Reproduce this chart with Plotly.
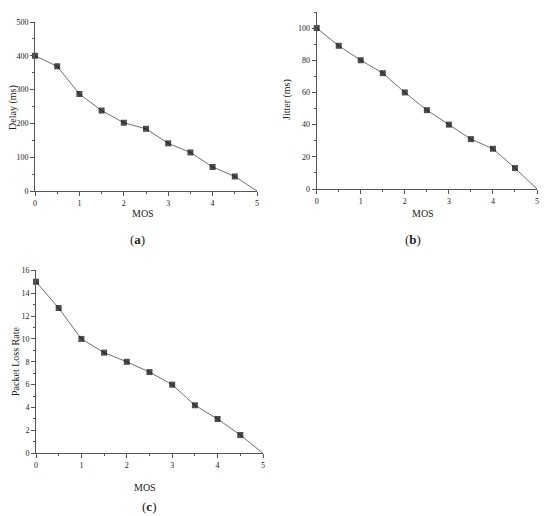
import plotly.graph_objects as go

mos = [0, 0.5, 1, 1.5, 2, 2.5, 3, 3.5, 4, 4.5, 5]
delay = [400, 369, 287, 238, 202, 184, 141, 114, 71, 43, 0]
jitter = [100, 89, 80, 72, 60, 49, 40, 31, 25, 13, 0]
loss = [15, 12.7, 10, 8.8, 8, 7.1, 6, 4.2, 3, 1.6, 0]

W, H = 550, 516
FONT = "Liberation Serif, Times New Roman, serif"
AX = "#555555"


def px(x):
    return x / W


def py(y):
    return 1 - y / H


fig = go.Figure()

# last point sits on the axis corner without a visible marker
sizes = [6] * (len(mos) - 1) + [0]

for k, ys in zip(["", "2", "3"], [delay, jitter, loss]):
    fig.add_trace(go.Scatter(
        x=mos, y=ys, mode="lines+markers",
        line={"color": "#707070", "width": 1},
        marker={"symbol": "square", "color": "black", "size": sizes,
                "line": {"width": 0}},
        xaxis="x" + k, yaxis="y" + k, showlegend=False, cliponaxis=False,
    ))


def xax(dom, anchor):
    return dict(domain=dom, anchor=anchor, range=[0, 5], dtick=1,
                automargin=False,
                showline=True, linecolor=AX, linewidth=1, ticks="outside",
                ticklen=4, tickcolor=AX, showgrid=False, zeroline=False,
                minor={"ticks": "outside", "ticklen": 2, "dtick": 0.5, "tickcolor": AX},
                tickfont={"family": FONT, "size": 8, "color": "#222"})


def yax(dom, anchor, rng, dt):
    return dict(domain=dom, anchor=anchor, range=rng, dtick=dt,
                automargin=False,
                showline=True, linecolor=AX, linewidth=1, ticks="outside",
                ticklen=4, tickcolor=AX, showgrid=False, zeroline=False,
                minor={"ticks": "outside", "ticklen": 2, "dtick": dt / 2, "tickcolor": AX},
                tickfont={"family": FONT, "size": 8, "color": "#222"})


fig.update_layout(
    template="none",
    font={"family": FONT},
    width=W, height=H, margin=dict(l=0, r=0, t=0, b=0, autoexpand=False),
    plot_bgcolor="white", paper_bgcolor="white",
    xaxis=xax([px(35), px(257)], "y"),
    yaxis=yax([py(191), py(22)], "x", [0, 500], 100),
    xaxis2=xax([px(316.7), px(537)], "y2"),
    yaxis2=yax([py(189), py(12)], "x2", [0, 110], 20),
    xaxis3=xax([px(36), px(263)], "y3"),
    yaxis3=yax([py(453.3), py(270.3)], "x3", [0, 16], 2),
)

texts = [
    ("MOS", 143, 213, 0, 10), ("MOS", 423, 213, 0, 10), ("MOS", 145, 487, 0, 10),
    ("Delay (ms)", 13, 108, -90, 10), ("Jitter (ms)", 287, 100, -90, 10),
    ("Packet Loss Rate", 15, 362, -90, 10),
    ("(<b>a</b>)", 137, 240, 0, 13), ("(<b>b</b>)", 413, 240, 0, 13),
    ("(<b>c</b>)", 149, 506, 0, 13),
]
for t, x, y, ang, sz in texts:
    fig.add_annotation(text=t, x=px(x), y=py(y), xref="paper", yref="paper",
                       xanchor="center", yanchor="middle",
                       showarrow=False, textangle=ang,
                       font={"family": FONT, "size": sz, "color": "#222"})

# page body has a default 8px margin; drop it so the figure fills the window
fig.write_html("out.html", config={"displayModeBar": False},
               post_script="document.body.style.margin='0';")
